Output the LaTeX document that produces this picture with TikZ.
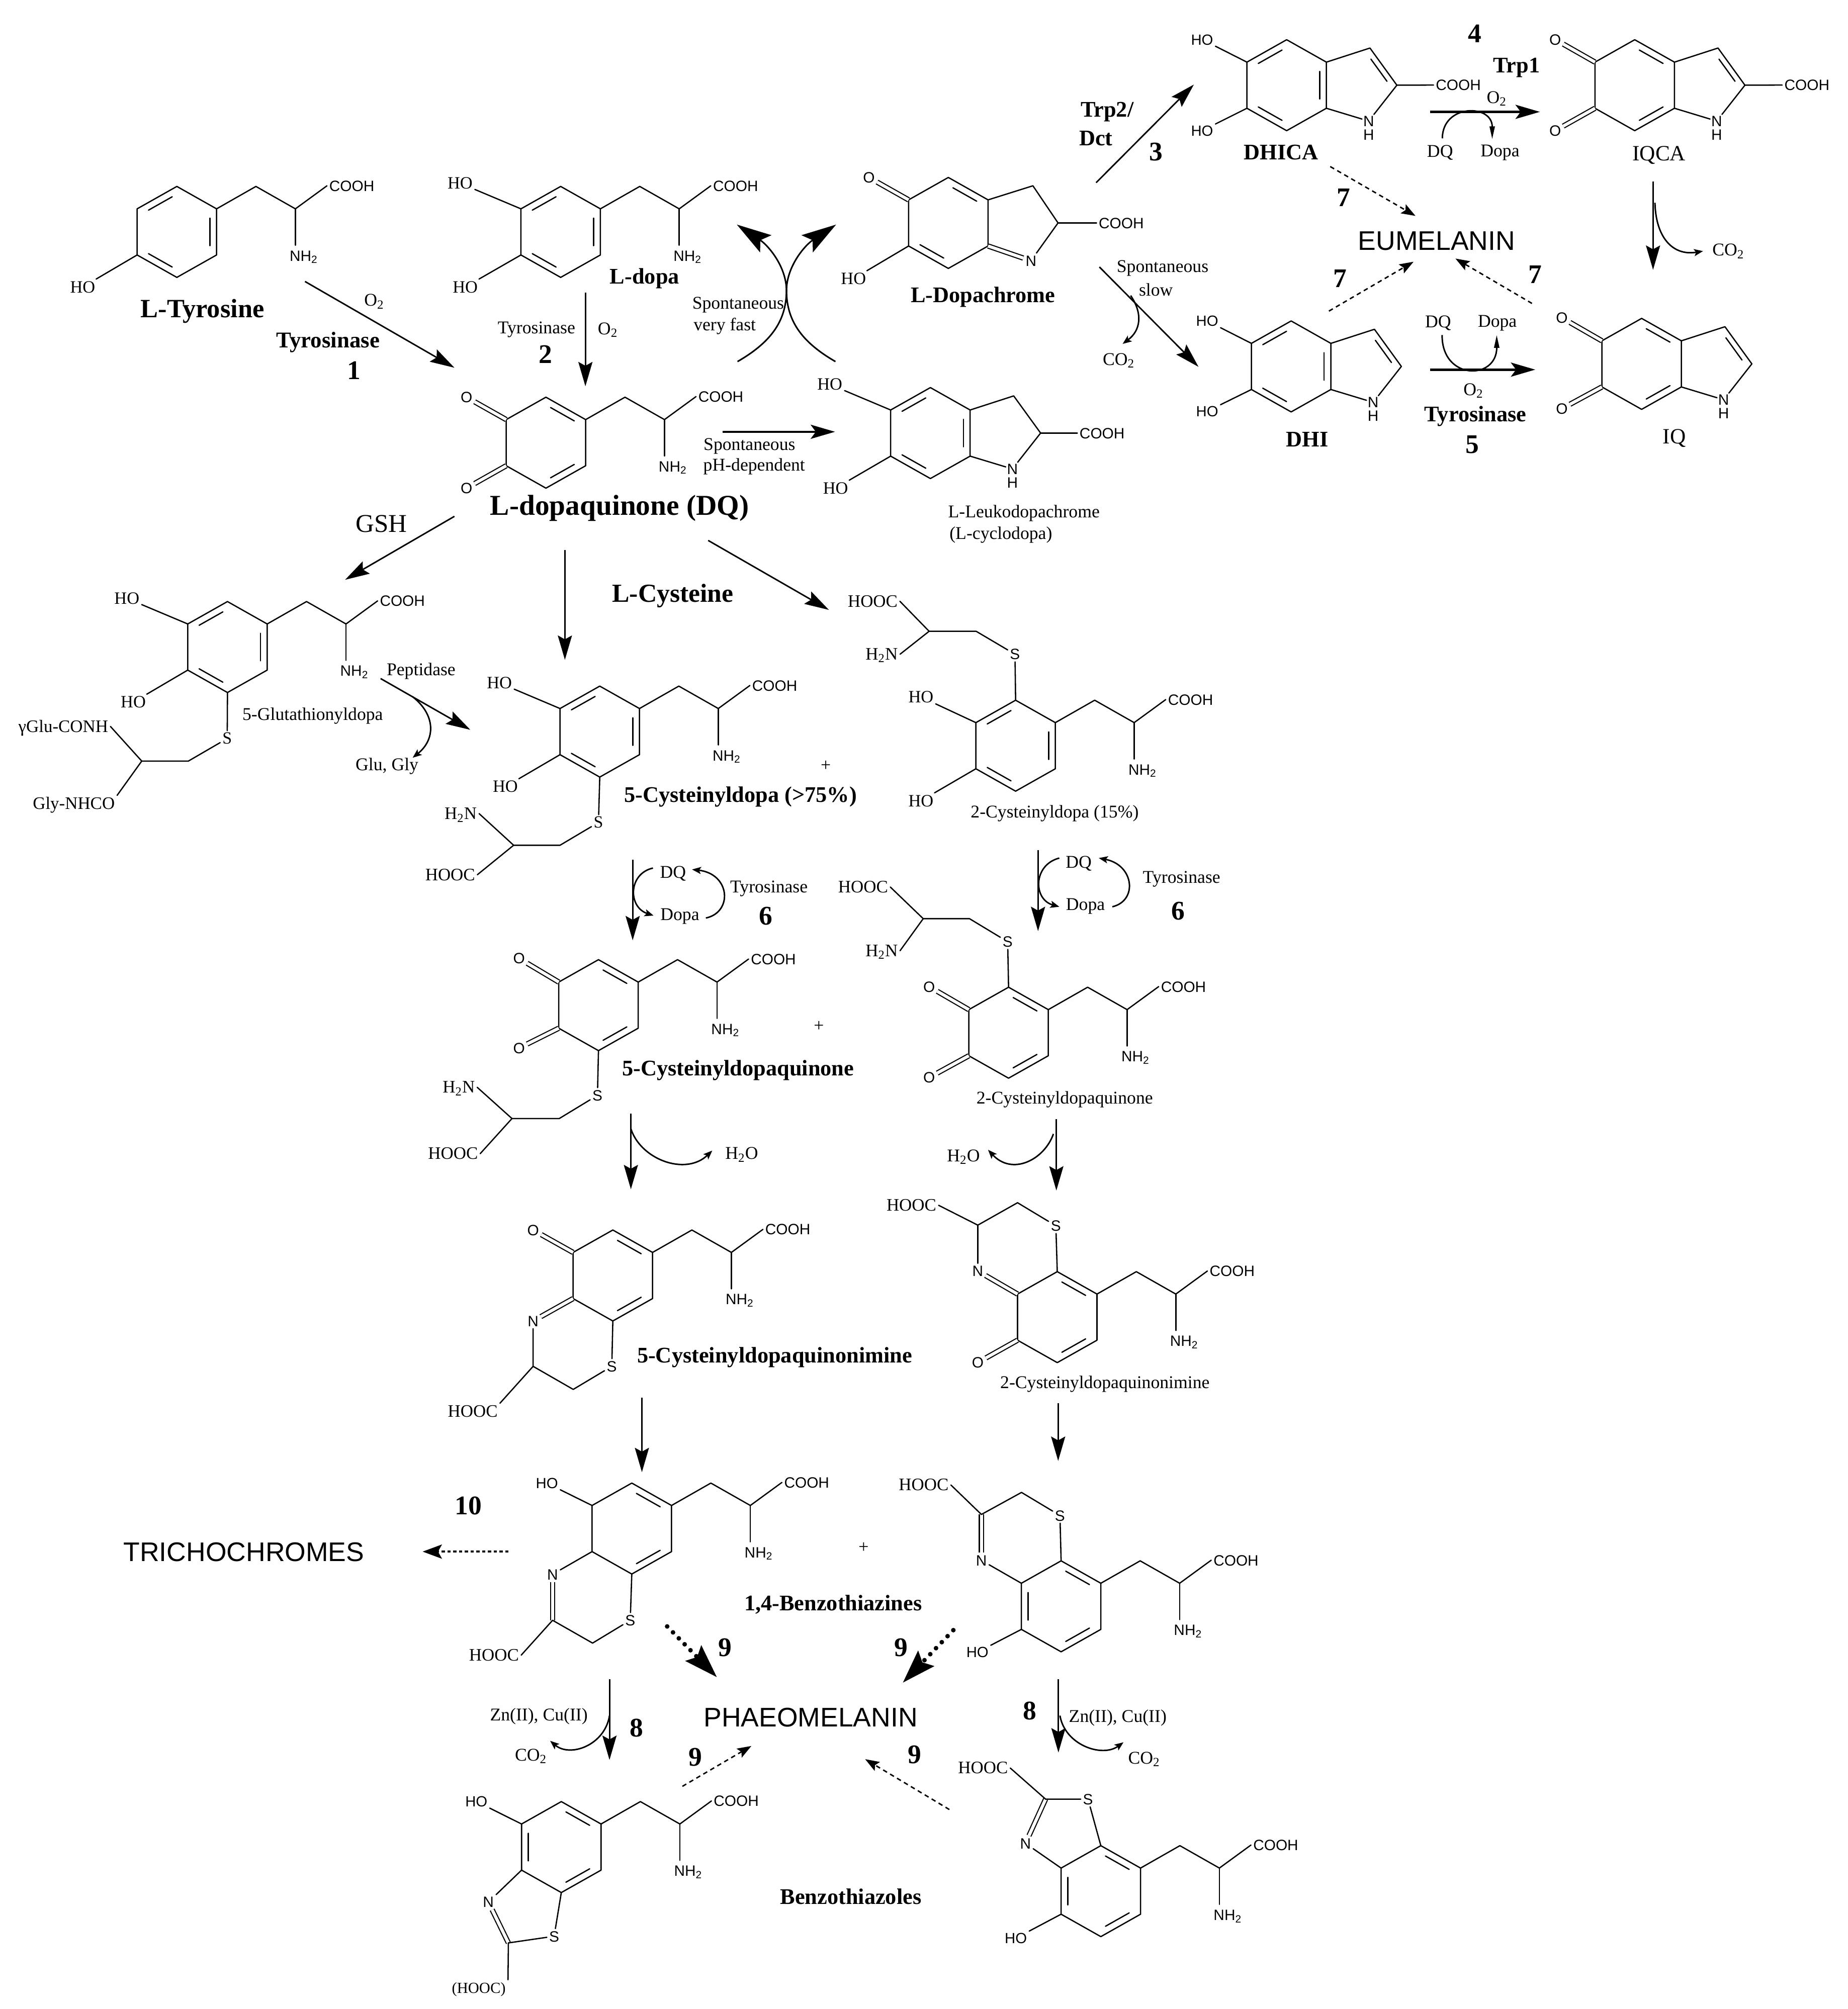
\documentclass[tikz,border=0pt]{standalone}
\usepackage{fontspec}
\setmainfont{Liberation Serif}
\newfontfamily\arialfam{Liberation Sans}
\usetikzlibrary{arrows.meta,calc}
\tikzset{
  bond/.style={line width=1pt,line cap=round,line join=round},
  dbond/.style={line width=.85pt,double,double distance=2.4pt,line cap=butt},
  atom/.style={font=\arialfam\fontsize{11.7}{14}\selectfont,inner sep=1.6pt,text height=8.4pt,text depth=0pt},
  atomser/.style={font=\fontsize{13.3}{15}\selectfont,inner sep=1.6pt,text height=8.6pt,text depth=0pt},
  acid/.style={font=\arialfam\fontsize{11.7}{14}\selectfont,inner sep=1.6pt,text height=8.4pt,text depth=0pt},
  tl/.style={font=\fontsize{13.7}{15}\selectfont,inner sep=1.6pt,text height=8.8pt,text depth=0pt},
  ho/.style={font=\fontsize{13.5}{15}\selectfont,inner sep=1.6pt,text height=8.8pt,text depth=0pt},
  hos/.style={font=\arialfam\fontsize{11.5}{14}\selectfont,inner sep=1.6pt,text height=8.3pt,text depth=0pt},
  lbl/.style={font=\fontsize{14}{16}\selectfont,inner sep=0pt},
  blab/.style={font=\bfseries\fontsize{17.4}{20}\selectfont,inner sep=0pt},
  bbig/.style={font=\bfseries\fontsize{20.3}{23}\selectfont,inner sep=0pt},
  bhuge/.style={font=\bfseries\fontsize{22.5}{25}\selectfont,inner sep=0pt},
  num/.style={font=\bfseries\fontsize{21}{24}\selectfont,inner sep=0pt},
  sanslab/.style={font=\arialfam\fontsize{21}{24}\selectfont,inner sep=0pt},
  arr/.style={line width=1.15pt,-{Stealth[length=19pt,width=11pt,inset=3pt]}},
  arrthick/.style={line width=1.8pt,-{Stealth[length=19pt,width=11pt,inset=4pt]}},
  arrbig/.style={line width=1.2pt,-{Stealth[length=27pt,width=16pt,inset=5pt]}},
  arrdash/.style={line width=1.1pt,dash pattern=on 3.5pt off 2.8pt,-{Stealth[length=11pt,width=8pt,inset=2pt]}},
  arrtri/.style={line width=1.5pt,dash pattern=on 2.5pt off 2pt,-{Stealth[length=15pt,width=11pt,inset=3pt]}},
  arrdot/.style={line width=3.6pt,line cap=round,dash pattern=on 0pt off 6.5pt,-{Stealth[length=26pt,width=17pt,inset=4pt]}},
  curl/.style={line width=1.15pt,-{Stealth[length=7pt,width=5.5pt,inset=1.5pt]}},
  curlthin/.style={line width=1.15pt,-{Stealth[length=10pt,width=4pt,inset=0pt]}},
}
% hexagon: prefix, centre x, centre y
\newcommand\Hexa[3]{%
  \coordinate(#1-c)at(#2,#3);
  \coordinate(#1-t)at(#2,#3-35.5);
  \coordinate(#1-ur)at(#2+31,#3-18);
  \coordinate(#1-lr)at(#2+31,#3+18);
  \coordinate(#1-b)at(#2,#3+35.5);
  \coordinate(#1-ll)at(#2-31,#3+18);
  \coordinate(#1-ul)at(#2-31,#3-18);
  \draw[bond](#1-t)--(#1-ur)--(#1-lr)--(#1-b)--(#1-ll)--(#1-ul)--cycle;}
\newcommand\InC[3]{\draw[bond]($.714*(#1)+.116*(#2)+.17*(#3)$)--($.714*(#2)+.116*(#1)+.17*(#3)$);}
\newcommand\In[3]{\InC{#1-#2}{#1-#3}{#1-c}}
% alanine side chain
\newcommand\Chain[3]{%
  \coordinate(#1-p1)at(#2+61.7,#3-35.5);
  \coordinate(#1-p2)at(#2+92.5,#3-18);
  \coordinate(#1-p3)at(#2+92.5,#3+10.4);
  \node[acid](#1-cooh)at(#2+136.5,#3-36){COOH};
  \node[acid](#1-nh2)at(#2+99,#3+18.5){NH\textsubscript{2}};
  \draw[bond](#1-ur)--(#1-p1)--(#1-p2)--(#1-cooh.west);
  \draw[bond](#1-p2)--(#1-p3);}
% pyrrole part: prefix, cx, cy
\newcommand\Five[3]{%
  \coordinate(#1-a)at(#2+65,#3-29);
  \coordinate(#1-g)at(#2+86,#3);
  \coordinate(#1-m)at(#2+55,#3+2);
  \node[atom,inner sep=.8pt](#1-n)at(#2+64,#3+28){N};
  \node[atom,inner sep=.8pt](#1-h)at(#2+64,#3+38.5){H};
  \draw[bond](#1-ur)--(#1-a)--(#1-g)--(#1-n)--(#1-lr);}
% single / double bonded substituent: style, from, name, position, text
\newcommand\Sb[5][ho]{\node[#1](#3)at(#4){#5};\draw[bond](#2)--(#3);}
\newcommand\Ox[3]{\node[atom](#2)at(#3){O};\draw[dbond](#1)--(#2);}
% thioether tail: S style, prefix, vertex, S, q1, q2
\newcommand\Tail[6][atom]{%
  \node[#1](#2-s)at(#4){S};
  \coordinate(#2-q1)at(#5);\coordinate(#2-q2)at(#6);
  \draw[bond](#3)--(#2-s)--(#2-q1)--(#2-q2);}
\newcommand\TailEnd[6][east]{%
  \node[tl](#2-ta)at(#3){#4};\node[tl](#2-tb)at(#5){#6};
  \draw[bond](#2-ta.east)--(#2-q2)--(#2-tb.#1);}
\newcommand\Lb[4]{\node[#1](#2)at(#3){#4};}
\newcommand\Arr[4]{\coordinate(#2-a)at(#3);\coordinate(#2-z)at(#4);\draw[#1](#2-a)--(#2-z);}
\newcommand\Crv[6]{\coordinate(#2-a)at(#3);\coordinate(#2-z)at(#6);\draw[#1](#2-a)..controls(#4)and(#5)..(#2-z);}
\newcommand\Two{\textsubscript{2}}
\begin{document}
\begin{tikzpicture}[x=1pt,y=-1pt]
\fill[white](0,0)rectangle(1442,1568);
\useasboundingbox(0,0)rectangle(1442,1568);

% ---------- L-Tyrosine
\Hexa{tyr}{138}{181}\In{tyr}{t}{ul}\In{tyr}{ur}{lr}\In{tyr}{b}{ll}\Chain{tyr}{138}{181}
\Sb{tyr-ll}{tyr-ho}{64.5,224}{HO}
\Lb{blab,font=\bfseries\fontsize{20.6}{23}\selectfont}{ltyr}{158,243}{L-Tyrosine}
% ---------- L-dopa
\Hexa{dop}{437.5}{181}\In{dop}{t}{ul}\In{dop}{ur}{lr}\In{dop}{b}{ll}\Chain{dop}{437.5}{181}
\Sb{dop-ul}{dop-ho1}{359,143}{HO}\Sb{dop-ll}{dop-ho2}{363,224}{HO}
\Lb{blab}{ldop}{503,217.5}{L-dopa}
% ---------- L-dopaquinone
\Hexa{dq}{426}{345.5}\In{dq}{t}{ur}\In{dq}{lr}{b}\Chain{dq}{426}{345.5}
\Ox{dq-ul}{dq-o1}{364,310}\Ox{dq-ll}{dq-o2}{364,381}
\Lb{bhuge}{ldq}{483.5,396.5}{L-dopaquinone (DQ)}
% ---------- L-Dopachrome
\Hexa{dc}{740}{174}\In{dc}{t}{ur}\In{dc}{ll}{b}
\Ox{dc-ul}{dc-o}{678,138.5}\Sb{dc-ll}{dc-ho}{666,217.5}{HO}
\coordinate(dc-a)at(806,145);\coordinate(dc-g)at(825.6,174);
\node[atom](dc-n)at(804.5,203.5){N};
\draw[bond](dc-ur)--(dc-a)--(dc-g)--(dc-n);\draw[dbond](dc-lr)--(dc-n);
\node[acid](dc-cooh)at(875,174){COOH};\draw[bond](dc-g)--(dc-cooh);
\Lb{blab}{ldc}{767,232}{L-Dopachrome}
% ---------- L-Leukodopachrome
\Hexa{lk}{726}{338}\In{lk}{t}{ul}\In{lk}{ur}{lr}\In{lk}{b}{ll}\Five{lk}{726}{338}
\Sb{lk-ul}{lk-ho1}{647.5,300}{HO}\Sb{lk-ll}{lk-ho2}{652,381}{HO}
\node[acid](lk-cooh)at(860,338){COOH};\draw[bond](lk-g)--(lk-cooh);
\Lb{lbl}{llk1}{799,400.5}{L-Leukodopachrome}
\Lb{lbl}{llk2}{781,417.6}{(L-cyclodopa)}
% ---------- DHICA
\Hexa{dh}{1004}{66.5}\In{dh}{t}{ul}\In{dh}{ur}{lr}\In{dh}{b}{ll}\Five{dh}{1004}{66.5}\InC{dh-a}{dh-g}{dh-m}
\Sb[hos]{dh-ul}{dh-ho1}{938,30.8}{HO}\Sb[hos]{dh-ll}{dh-ho2}{938,102}{HO}
\node[acid](dh-cooh)at(1138,66.3){COOH};\draw[bond](dh-g)--(dh-cooh);
\Lb{blab}{ldh}{999.6,119}{DHICA}
% ---------- IQCA
\Hexa{iq}{1275.6}{66.5}\In{iq}{t}{ur}\In{iq}{b}{lr}\Five{iq}{1275.6}{66.5}\InC{iq-a}{iq-g}{iq-m}
\Ox{iq-ul}{iq-o1}{1213.5,30.8}\Ox{iq-ll}{iq-o2}{1213.5,102}
\node[acid](iq-cooh)at(1410,66.3){COOH};\draw[bond](iq-g)--(iq-cooh);
\Lb{lbl,font=\fontsize{17}{20}\selectfont}{liq}{1294.6,121}{IQCA}
% ---------- DHI
\Hexa{di}{1007.5}{286}\In{di}{t}{ul}\In{di}{ur}{lr}\In{di}{b}{ll}\Five{di}{1007.5}{286}\InC{di-a}{di-g}{di-m}
\Sb[hos]{di-ul}{di-ho1}{942,250.5}{HO}\Sb[hos]{di-ll}{di-ho2}{942,321}{HO}
\Lb{blab}{ldi}{1020,343}{DHI}
% ---------- IQ
\Hexa{qi}{1281}{284}\In{qi}{t}{ur}\In{qi}{b}{lr}\Five{qi}{1281}{284}\InC{qi-a}{qi-g}{qi-m}
\Ox{qi-ul}{qi-o1}{1218.7,248}\Ox{qi-ll}{qi-o2}{1218.7,319}
\Lb{lbl,font=\fontsize{17}{20}\selectfont}{lqi}{1306.5,342}{IQ}
% ---------- 5-Glutathionyldopa
\Hexa{gl}{177.5}{505}\In{gl}{t}{ul}\In{gl}{ur}{lr}\In{gl}{b}{ll}\Chain{gl}{177.5}{505}
\Sb{gl-ul}{gl-ho1}{99,467}{HO}\Sb{gl-ll}{gl-ho2}{104,548}{HO}
\Tail[atomser]{gl}{gl-b}{177.3,576.4}{147,594}{110.6,594}
\TailEnd[north east]{gl}{49.4,567}{γGlu-CONH}{57.6,627}{Gly-NHCO}
\Lb{lbl}{lgl}{244,558.8}{5-Glutathionyldopa}
% ---------- 5-Cysteinyldopa
\Hexa{c5}{468}{571}\In{c5}{t}{ul}\In{c5}{ur}{lr}\In{c5}{b}{ll}\Chain{c5}{468}{571}
\Sb{c5-ul}{c5-ho1}{389.7,533}{HO}\Sb{c5-ll}{c5-ho2}{394.3,614}{HO}
\Tail[atomser]{c5}{c5-b}{467,641.9}{437,659.7}{400.8,659.7}
\TailEnd{c5}{359.5,635}{H\Two N}{351.3,682.7}{HOOC}
\Lb{lbl}{plus1}{644.4,597.6}{+}
\Lb{blab}{lc5}{577.8,622}{5-Cysteinyldopa (>75\%)}
% ---------- 2-Cysteinyldopa
\Hexa{c2}{792.5}{582}\In{c2}{t}{ul}\In{c2}{ur}{lr}\In{c2}{b}{ll}\Chain{c2}{792.5}{582}
\Sb{c2-ul}{c2-ho1}{718.6,544}{HO}\Sb{c2-ll}{c2-ho2}{718.6,625}{HO}
\Tail{c2}{c2-t}{792,510.6}{761.7,492.7}{725,492.7}
\TailEnd{c2}{681,469.3}{HOOC}{688,510.6}{H\Two N}
\Lb{lbl}{lc2}{823,634.8}{2-Cysteinyldopa (15\%)}
% ---------- 5-Cysteinyldopaquinone
\Hexa{q5}{467}{784.5}\In{q5}{t}{ur}\In{q5}{lr}{b}\Chain{q5}{467}{784.5}
\Ox{q5-ul}{q5-o1}{405,748}\Ox{q5-ll}{q5-o2}{405,818}
\Tail{q5}{q5-b}{466.2,854.9}{436.4,873}{399.5,873}
\TailEnd{q5}{358,848.6}{H\Two N}{353.5,900.4}{HOOC}
\Lb{lbl}{plus2}{639,801}{+}
\Lb{blab}{lq5}{576,835.5}{5-Cysteinyldopaquinone}
% ---------- 2-Cysteinyldopaquinone
\Hexa{q2}{787}{806}\In{q2}{t}{ur}\In{q2}{lr}{b}\Chain{q2}{787}{806}
\Ox{q2-ul}{q2-o1}{725,770}\Ox{q2-ll}{q2-o2}{725,841}
\Tail{q2}{q2-t}{786.3,735}{756.5,717}{720.4,717}
\TailEnd{q2}{673.5,692.3}{HOOC}{688,742}{H\Two N}
\Lb{lbl}{lq2}{830.8,858.3}{2-Cysteinyldopaquinone}
% ---------- 5-Cysteinyldopaquinonimine
\Hexa{i5}{478.2}{995.5}\In{i5}{t}{ur}\In{i5}{lr}{b}\Chain{i5}{478.2}{995.5}
\Ox{i5-ul}{i5-o}{416,960}
\node[atom](i5-n)at(416,1031){N};\draw[dbond](i5-ll)--(i5-n);
\coordinate(i5-q1)at(416,1066.4);\coordinate(i5-q2)at(447.3,1084.4);
\node[atom](i5-s)at(477.4,1066.4){S};
\node[tl](i5-hooc)at(368.9,1101.4){HOOC};
\draw[bond](i5-n)--(i5-q1)--(i5-q2)--(i5-s)--(i5-b);
\draw[bond](i5-q1)--(i5-hooc.north east);
\Lb{blab}{li5}{604.5,1059.4}{5-Cysteinyldopaquinonimine}
% ---------- 2-Cysteinyldopaquinonimine
\Hexa{i2}{825}{1028}\In{i2}{t}{ur}\In{i2}{lr}{b}\Chain{i2}{825}{1028}
\Ox{i2-ll}{i2-o}{763,1063.4}
\node[atom](i2-n)at(763,992){N};\draw[dbond](i2-ul)--(i2-n);
\coordinate(i2-q1)at(763,956.2);\coordinate(i2-q2)at(794,938.7);
\node[atom](i2-s)at(823.9,956.7){S};
\node[tl](i2-hooc)at(711.2,940.7){HOOC};
\draw[bond](i2-n)--(i2-q1)--(i2-q2)--(i2-s)--(i2-t);
\draw[bond](i2-q1)--(i2-hooc.east);
\Lb{lbl}{li2}{862.2,1080.1}{2-Cysteinyldopaquinonimine}
% ---------- benzothiazine (left)
\Hexa{ba}{493}{1193}\In{ba}{t}{ur}\In{ba}{lr}{b}\Chain{ba}{493}{1193}
\Sb[hos]{ba-ul}{ba-ho}{426.8,1157.6}{HO}
\node[atom](ba-n)at(431.2,1228.7){N};\draw[bond](ba-ll)--(ba-n);
\coordinate(ba-q1)at(431.2,1264.6);\coordinate(ba-q2)at(462.4,1282.4);
\node[atom](ba-s)at(491.8,1264.6){S};
\node[tl](ba-hooc)at(385.5,1291.8){HOOC};
\draw[dbond](ba-n)--(ba-q1);
\draw[bond](ba-q1)--(ba-q2)--(ba-s)--(ba-b);\draw[bond](ba-q1)--(ba-hooc.east);
\Lb{lbl}{plus3}{673.9,1208}{+}
\Lb{blab}{lba}{650.1,1252.5}{1,4-Benzothiazines}
% ---------- benzothiazine (right)
\Hexa{bb}{828}{1253.7}\In{bb}{t}{ur}\In{bb}{ul}{ll}\In{bb}{lr}{b}\Chain{bb}{828}{1253.7}
\Sb[hos]{bb-ll}{bb-ho}{762.7,1289.5}{HO}
\node[atom](bb-n)at(765.8,1217.8){N};\draw[bond](bb-ul)--(bb-n);
\coordinate(bb-q1)at(765.8,1182);\coordinate(bb-q2)at(797.1,1164.8);
\node[atom](bb-s)at(827.1,1182.8){S};
\node[tl](bb-hooc)at(720.8,1159){HOOC};
\draw[dbond](bb-n)--(bb-q1);
\draw[bond](bb-q1)--(bb-q2)--(bb-s)--(bb-t);\draw[bond](bb-q1)--(bb-hooc.east);
% ---------- benzothiazole (left)
\Hexa{bc}{438}{1441.6}\In{bc}{t}{ur}\In{bc}{ul}{ll}\In{bc}{lr}{b}\Chain{bc}{438}{1441.6}
\Sb[hos]{bc-ul}{bc-ho}{371.7,1406}{HO}
\node[atom](bc-n)at(381.1,1484.5){N};\draw[bond](bc-ll)--(bc-n);
\coordinate(bc-q)at(396.7,1516.4);
\node[atom](bc-s)at(432.4,1511.2){S};
\node[tl,font=\fontsize{12}{14}\selectfont](bc-hooc)at(373.6,1551.4){(HOOC)};
\draw[dbond](bc-n)--(bc-q);
\draw[bond](bc-q)--(bc-s)--(bc-b);\draw[bond](bc-q)--(bc-hooc.north east);
\Lb{blab}{lbc}{663.9,1480.2}{Benzothiazoles}
% ---------- benzothiazole (right)
\Hexa{bd}{859}{1476}\In{bd}{t}{ur}\In{bd}{ul}{ll}\In{bd}{lr}{b}\Chain{bd}{859}{1476}
\Sb[hos]{bd-ll}{bd-ho}{792.7,1512.7}{HO}
\node[atom](bd-n)at(800.2,1438.7){N};\draw[bond](bd-ul)--(bd-n);
\coordinate(bd-q)at(815.9,1404.2);
\node[atom](bd-s)at(849,1404.2){S};
\node[tl](bd-hooc)at(767.1,1379.9){HOOC};
\draw[dbond](bd-n)--(bd-q);
\draw[bond](bd-q)--(bd-s)--(bd-t);\draw[bond](bd-q)--(bd-hooc.east);

% ---------- end products
\Lb{sanslab}{eu}{1121,188}{EUMELANIN}
\Lb{sanslab}{ph}{632.6,1340.6}{PHAEOMELANIN}
\Lb{sanslab}{tr}{190.3,1211.5}{TRICHOCHROMES}

% ---------- top arrows
\Arr{arr}{a1}{238,219.7}{354.6,287}
\Lb{lbl}{o21}{292,235.4}{O\Two}
\Lb{blab,font=\bfseries\fontsize{17.6}{20}\selectfont}{e1}{256,267}{Tyrosinase}
\Lb{num}{n1}{276.3,289}{1}
\Arr{arr}{a2}{456.8,228.5}{456.8,301.5}
\Lb{lbl}{e2}{418.6,257.4}{Tyrosinase}
\Lb{lbl}{o22}{474.3,257.4}{O\Two}
\Lb{num}{n2}{425.5,276.7}{2}
\coordinate(s1-a)at(575.5,282.2);\coordinate(s1-m)at(613.7,227);\coordinate(s1-z)at(652.4,175.3);
\draw[arrbig](s1-a)..controls(600,268)and(613.5,252)..(s1-m)..controls(613.7,208)and(628,191.5)..(s1-z);
\coordinate(s2-a)at(651.9,282.2);\coordinate(s2-m)at(613.7,227);\coordinate(s2-z)at(575,175.3);
\draw[arrbig](s2-a)..controls(627.4,268)and(613.9,252)..(s2-m)..controls(613.7,208)and(599.4,191.5)..(s2-z);
\Lb{lbl}{sv1}{576,238}{Spontaneous}
\Lb{lbl}{sv2}{565.5,254.7}{very fast}
\Arr{arrthick,line width=1.5pt}{a3}{564,337}{651.6,337}
\Lb{lbl}{sp1}{584.8,348.3}{Spontaneous}
\Lb{lbl}{sp2}{588.5,364.2}{pH-dependent}
\Arr{arr}{a4}{855.3,142.6}{931.6,66}
\Lb{blab}{t2}{864,87.5}{Trp2/}
\Lb{blab}{t3}{855.2,107.9}{Dct}
\Lb{num}{n3}{902,118.4}{3}
\Arr{arr}{a5}{857.9,208.4}{935.2,286.3}
\Lb{lbl}{ss1}{907.2,209.2}{Spontaneous}
\Lb{lbl}{ss2}{902,226.3}{slow}
\Crv{curl}{c5a}{882.3,230.7}{892,245}{890,258}{876,268.4}
\Lb{lbl}{co1}{873,281.4}{CO\Two}
\Arr{arrthick}{a6}{1116,87.3}{1201.6,87.3}
\Lb{lbl}{o23}{1167.9,77}{O\Two}
\Lb{blab}{t1}{1183.4,53}{Trp1}
\Lb{num}{n4}{1150.7,26.2}{4}
\Crv{curlthin}{c6a}{1125.5,108}{1125.5,81}{1164.4,81}{1164.4,108.6}
\Lb{lbl}{dq1}{1123.7,119.2}{DQ}
\Lb{lbl}{dp1}{1170.5,119.2}{Dopa}
\Arr{arrthick}{a7}{1116,288.5}{1198,288.5}
\Crv{curlthin}{c7a}{1125.3,261.5}{1125,297}{1168,297}{1167.9,261.5}
\Lb{lbl}{dq2}{1122.2,252}{DQ}
\Lb{lbl}{dp2}{1168.4,252}{Dopa}
\Lb{lbl}{o24}{1149.7,305}{O\Two}
\Lb{blab}{e5}{1151.3,324.9}{Tyrosinase}
\Lb{num}{n5}{1148.7,346.9}{5}
\Arr{arr}{a8}{1289.9,141.8}{1289.9,210.6}
\Crv{curl}{c8a}{1291.4,158.3}{1292,185}{1305,200}{1328.9,196}
\Lb{lbl}{co2}{1348.6,196}{CO\Two}
\Arr{arrdash}{d1}{1038,130}{1104.5,168.5}
\Lb{num}{n71}{1048.4,154.2}{7}
\Arr{arrdash}{d2}{1037,242.8}{1103,204.3}
\Lb{num}{n72}{1045.8,217.5}{7}
\Arr{arrdash}{d3}{1195.4,236.8}{1135.7,201.8}
\Lb{num}{n73}{1198,214.2}{7}

% ---------- middle arrows
\Arr{arr}{a9}{354.6,403}{269.3,452.5}
\Lb{lbl,font=\fontsize{20}{23}\selectfont}{gsh}{297.6,408.7}{GSH}
\Arr{arr}{a10}{440.8,429.4}{440.8,515}
\Lb{bbig}{lcy}{525,465}{L-Cysteine}
\Arr{arr}{a11}{552.6,421.8}{646.8,476}
\Arr{arr}{a12}{297,529.6}{367,569.6}
\Lb{lbl}{pep}{328.6,523.8}{Peptidase}
\Crv{curl}{c12}{322,543.8}{340,558}{340,577}{322,591.4}
\Lb{lbl}{glg}{302,598}{Glu, Gly}
\Arr{arr}{a13}{493.7,671}{493.7,733.9}
\Lb{lbl}{dq3}{525.2,682}{DQ}
\Lb{lbl}{dp3}{530.5,715}{Dopa}
\Crv{curl}{c13a}{509.5,677.5}{490,682}{490,708}{510,714.6}
\Crv{curl}{c13b}{550.8,716.5}{572,712}{570,682}{540,678.6}
\Lb{lbl}{e6a}{600,693.7}{Tyrosinase}
\Lb{num}{n6a}{597.7,715}{6}
\Arr{arr}{a14}{810,663.4}{810,726.7}
\Lb{lbl}{dq4}{841.7,673.9}{DQ}
\Lb{lbl}{dp4}{847,707.5}{Dopa}
\Crv{curl}{c14a}{826.6,669.7}{806,675}{806,702}{826.6,707.7}
\Crv{curl}{c14b}{868,707.7}{888,703}{885,675}{857.4,669.7}
\Lb{lbl}{e6b}{922,686.3}{Tyrosinase}
\Lb{num}{n6b}{919.4,711}{6}
\Arr{arr}{a15}{492.3,869}{492.3,928.2}
\Crv{curl}{c15}{492.3,881}{500,905}{535,918}{555.8,898}
\Lb{lbl}{h2o1}{578.8,901.2}{H\Two O}
\Arr{arr}{a16}{824.3,873.6}{824.3,929.2}
\Crv{curl}{c16}{822,885}{815,905}{790,918}{771,897.4}
\Lb{lbl}{h2o2}{751.8,902.9}{H\Two O}
\Arr{arr}{a17}{500.9,1090.9}{500.9,1149}
\Arr{arr}{a18}{825.7,1095}{825.7,1140.2}

% ---------- bottom arrows
\Arr{arrtri}{t10}{396.7,1211}{329.8,1211}
\Lb{num}{n10}{365.4,1175}{10}
\Arr{arrdot}{p1}{520.6,1269.4}{559.4,1309}
\Lb{num}{n91}{565.6,1286}{9}
\Arr{arrdot}{p2}{743.9,1272.3}{704.5,1313.3}
\Lb{num}{n92}{703.3,1286}{9}
\Arr{arr}{a19}{475.6,1310.5}{475.6,1373.6}
\Lb{lbl}{zn1}{420.5,1339.7}{Zn(II), Cu(II)}
\Crv{curl}{c19}{475.6,1339}{472,1362}{445,1372}{429.3,1358.7}
\Lb{lbl}{co3}{414.3,1370.7}{CO\Two}
\Lb{num}{n81}{496.8,1348.6}{8}
\Arr{arr}{a20}{825.9,1310.5}{825.9,1367.8}
\Lb{lbl}{zn2}{872.2,1340.6}{Zn(II), Cu(II)}
\Crv{curl}{c20}{827.1,1339}{831,1362}{860,1372}{876.7,1359.8}
\Lb{lbl}{co4}{892.8,1373}{CO\Two}
\Lb{num}{n82}{803.4,1335.4}{8}
\Arr{arrdash}{p3}{532.5,1394.2}{586.3,1362.7}
\Lb{num}{n93}{542.5,1371.5}{9}
\Arr{arrdash}{p4}{740.8,1412.3}{675.1,1373}
\Lb{num}{n94}{713.9,1369.3}{9}
\end{tikzpicture}
\end{document}
